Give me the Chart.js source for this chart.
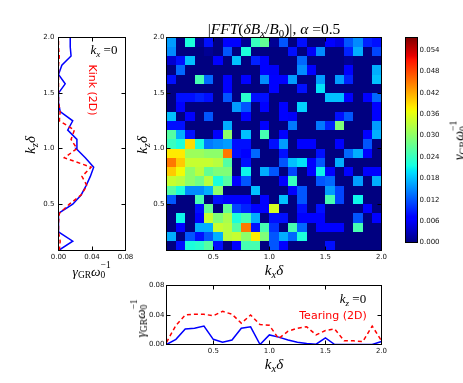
<!DOCTYPE html>
<html>
<head>
<meta charset="utf-8">
<script src="https://cdn.jsdelivr.net/npm/chart.js@4.4.0/dist/chart.umd.min.js"></script>
<style>
  body { margin: 0; background: #fff; width: 463px; height: 383px; overflow: hidden; position: relative; }
  .layer { position: absolute; left: 0; top: 0; width: 463px; height: 383px; }
  .t { position: absolute; white-space: nowrap; line-height: 1; transform: translate(-50%, -50%); }
  .rot { transform: translate(-50%, -50%) rotate(-90deg); }
  .rot90 { transform: translate(-50%, -50%) rotate(90deg); }
  .m { font-family: "Liberation Serif", "DejaVu Serif", serif; color: #000; }
  .s { font-family: "DejaVu Sans", sans-serif; }
  sub { font-size: .7em; position: relative; top: .3em; vertical-align: baseline; line-height: 1; }
  .ss { display: inline-block; position: relative; width: .8em; height: 1em; vertical-align: baseline; }
  .ss span { position: absolute; left: 0; font-size: .7em; line-height: 1; }
  .ss .u { top: -.1em; }
  .ss .d { top: .95em; }
</style>
</head>
<body>
<div class="layer"><canvas id="heat" width="463" height="383"></canvas></div>
<div class="layer"><canvas id="cbar" width="463" height="383"></canvas></div>
<div class="layer"><canvas id="left" width="463" height="383"></canvas></div>
<div class="layer"><canvas id="bottom" width="463" height="383"></canvas></div>

<div class="t m" style="left:274px;top:29px;font-size:15.5px">|<i>FFT</i>(<i>δB</i><sub><i>x</i></sub>/<i>B</i><sub>0</sub>)|, <i>α</i> =0.5</div>
<div class="t m" style="left:274px;top:270px;font-size:15px"><i>k</i><sub><i>x</i></sub><i>δ</i></div>
<div class="t m rot" style="left:142px;top:145px;font-size:15px"><i>k</i><sub><i>z</i></sub><i>δ</i></div>
<div class="t m rot" style="left:30px;top:145px;font-size:15px"><i>k</i><sub><i>z</i></sub><i>δ</i></div>
<div class="t m" style="left:92px;top:270px;font-size:13.5px"><i>γ</i><sub>GR</sub><i>ω</i><span class="ss"><span class="u">−1</span><span class="d">0</span></span></div>
<div class="t m" style="left:104px;top:50px;font-size:13px"><i>k</i><sub><i>x</i></sub> =0</div>
<div class="t s rot90" style="left:92px;top:90px;font-size:11px;color:#f00">Kink (2D)</div>
<div class="t m rot" style="left:139px;top:318px;font-size:13.5px"><i>γ</i><sub>GR</sub><i>ω</i><span class="ss"><span class="u">−1</span><span class="d">0</span></span></div>
<div class="t m" style="left:274px;top:364px;font-size:15px"><i>k</i><sub><i>x</i></sub><i>δ</i></div>
<div class="t m" style="left:353px;top:299px;font-size:13px"><i>k</i><sub><i>z</i></sub> =0</div>
<div class="t s" style="left:333px;top:315px;font-size:11px;color:#f00">Tearing (2D)</div>
<div class="t m rot" style="left:458px;top:140px;font-size:14px"><i>γ</i><sub>GR</sub><i>ω</i><span class="ss"><span class="u">−1</span><span class="d">0</span></span></div>

<script>
// wavenumber grid (k delta), also the pcolor cell edges
const kEdges = [0.083, 0.167, 0.25, 0.333, 0.417, 0.5, 0.583, 0.667, 0.75, 0.833, 0.917, 1.0,
                1.083, 1.167, 1.25, 1.333, 1.417, 1.5, 1.583, 1.667, 1.75, 1.833, 1.917, 2.0];
const kTicks = [0.5, 1.0, 1.5, 2.0];
const gammaTicks = [0, 0.04, 0.08];
const cbTicks = [0, 0.006, 0.012, 0.018, 0.024, 0.030, 0.036, 0.042, 0.048, 0.054];
const cbMax = 0.0575;

// left panel: growth rate vs kz at kx = 0
const gammaKx0 = [0.000, 0.017, 0.000, 0.000, 0.000, 0.017, 0.027, 0.033, 0.038, 0.042, 0.032, 0.021,
                  0.022, 0.011, 0.017, 0.002, 0.000, 0.000, 0.008, 0.000, 0.004, 0.015, 0.014, 0.014];
const kink2D   = [0.001, 0.002, 0.000, 0.000, 0.001, 0.013, 0.027, 0.034, 0.028, 0.039, 0.007, 0.022,
                  0.015, 0.019, 0.001, 0.002, 0.000, 0.000, 0.000, 0.000, 0.000, 0.001, 0.000, 0.000];

// bottom panel: growth rate vs kx at kz = 0
const gammaKz0  = [0.000, 0.007, 0.021, 0.022, 0.025, 0.007, 0.003, 0.006, 0.022, 0.024, 0.000, 0.013,
                   0.010, 0.006, 0.003, 0.0015, 0.0005, 0.009, 0.000, 0.000, 0.000, 0.000, 0.000, 0.004];
const tearing2D = [0.003, 0.026, 0.040, 0.041, 0.041, 0.039, 0.045, 0.041, 0.029, 0.040, 0.027, 0.026,
                   0.008, 0.018, 0.022, 0.024, 0.013, 0.019, 0.021, 0.005, 0.005, 0.004, 0.025, 0.005];

// |FFT| map, units of 1e-3, rows from kz = 2.0 (top) down to kz = 0.083, columns kx = 0.083 .. 2.0
const heatRows = [
  [16,0,22,1,8,0,7,7,1,24,27,1, 12,0,8,0,0,7,5,12,15,9,8],
  [15,0,0,0,1,0,12,0,22,0,0,0, 0,8,0,6,15,0,0,9,17,0,11],
  [4,8,18,0,0,7,0,18,0,9,7,0, 0,0,13,0,0,0,0,1,0,0,0],
  [0,13,0,0,0,0,0,0,0,0,7,6, 0,0,15,7,0,0,0,7,0,0,17],
  [8,0,0,25,13,0,7,0,7,0,15,7, 7,16,0,0,16,0,16,9,0,0,18],
  [0,0,0,0,0,0,7,0,0,0,0,7, 0,0,8,0,20,0,0,0,0,0,0],
  [0,8,8,9,8,0,12,0,23,8,8,0, 0,0,0,0,0,18,18,7,0,7,13],
  [0,7,0,0,0,0,0,16,12,0,7,0, 7,0,19,0,0,0,0,0,0,0,7],
  [18,0,7,0,12,0,0,0,7,0,0,0, 7,6,0,0,0,0,8,12,0,0,7],
  [8,8,0,0,0,0,17,0,0,0,7,0, 0,14,0,0,14,9,29,0,0,0,16],
  [26,17,8,0,0,7,30,0,18,0,25,0, 7,0,0,0,0,0,0,0,0,7,17],
  [24,22,39,22,14,15,16,8,8,0,0,8, 16,0,7,7,0,0,7,0,0,12,0],
  [38,38,31,31,30,30,45,8,7,13,0,0, 8,0,0,0,8,0,0,13,17,7,0],
  [45,40,34,34,34,33,26,0,8,0,0,0, 12,18,20,7,12,0,17,0,0,0,0],
  [40,37,30,33,27,29,29,0,21,0,17,12, 0,11,0,7,21,7,0,7,0,7,7],
  [34,33,30,28,33,22,26,7,12,0,0,0, 7,24,0,0,12,13,0,0,16,0,17],
  [26,22,15,15,17,30,0,0,0,18,0,0, 0,7,12,0,0,16,11,0,0,0,0],
  [12,0,0,25,0,8,7,7,7,0,7,0, 18,0,12,0,0,25,11,0,21,0,0],
  [0,0,0,8,27,0,27,11,9,7,7,35, 0,0,8,0,8,0,0,0,0,7,0],
  [0,21,0,7,34,29,32,22,25,17,0,8, 8,0,7,7,7,0,0,0,12,0,7],
  [0,7,0,17,17,34,33,26,45,8,25,10, 0,25,13,0,7,7,7,0,25,0,0],
  [17,0,12,8,12,17,33,34,30,38,29,12, 17,13,22,0,0,0,0,0,0,0,0],
  [0,8,22,23,26,8,0,7,25,25,0,12, 7,0,0,0,0,8,0,0,0,0,0]
];

const W = 463, H = 383;

// matplotlib jet
const jetR = [[0, 0], [0.35, 0], [0.66, 1], [0.89, 1], [1, 0.5]];
const jetG = [[0, 0], [0.125, 0], [0.375, 1], [0.64, 1], [0.91, 0], [1, 0]];
const jetB = [[0, 0.5], [0.11, 1], [0.34, 1], [0.65, 0], [1, 0]];
function seg(pts, t) {
  for (let i = 1; i < pts.length; i++) {
    if (t <= pts[i][0]) {
      const [t0, v0] = pts[i - 1], [t1, v1] = pts[i];
      return v0 + (v1 - v0) * (t - t0) / (t1 - t0);
    }
  }
  return pts[pts.length - 1][1];
}
function jet(t) {
  t = Math.max(0, Math.min(1, t));
  const c = [jetR, jetG, jetB].map(p => Math.round(255 * seg(p, t)));
  return `rgb(${c[0]},${c[1]},${c[2]})`;
}

function base(box, yW, xH, yRight) {
  return {
    responsive: false, animation: false, events: [],
    layout: {
      padding: yRight
        ? {left: box.l, top: box.t, right: W - box.r - yW, bottom: H - box.b}
        : {left: box.l - yW, top: box.t, right: W - box.r, bottom: H - box.b - xH}
    },
    plugins: {legend: {display: false}, tooltip: {enabled: false}}
  };
}

function axis(min, max, ticks, digits, pos, size, pad) {
  const vert = pos === 'left' || pos === 'right';
  return {
    type: 'linear', position: pos, min: min, max: max,
    afterBuildTicks: s => { s.ticks = ticks.map(v => ({value: v})); },
    afterFit: s => {
      if (vert) { s.width = size; s.paddingTop = 0; s.paddingBottom = 0; }
      else { s.height = size; s.paddingLeft = 0; s.paddingRight = 0; }
    },
    grid: {display: false, drawTicks: false},
    border: {display: false},
    ticks: {
      padding: pad, color: '#111', autoSkip: false, maxRotation: 0,
      font: {family: 'DejaVu Sans', size: 7},
      callback: v => v.toFixed(digits)
    }
  };
}

// black frame + inward ticks on all four sides, like classic matplotlib
const frameTicks = {
  id: 'frameTicks',
  afterDraw(chart) {
    const {ctx, chartArea: a, scales} = chart;
    const L = 4;
    ctx.save();
    ctx.strokeStyle = '#000';
    ctx.lineWidth = 1;
    ctx.beginPath();
    if (scales.x.options.display !== false) {
      scales.x.ticks.forEach(t => {
        const px = Math.floor(scales.x.getPixelForValue(t.value)) + 0.5;
        ctx.moveTo(px, a.bottom); ctx.lineTo(px, a.bottom - L);
        ctx.moveTo(px, a.top); ctx.lineTo(px, a.top + L);
      });
      scales.y.ticks.forEach(t => {
        const py = Math.floor(scales.y.getPixelForValue(t.value)) + 0.5;
        ctx.moveTo(a.left, py); ctx.lineTo(a.left + L, py);
        ctx.moveTo(a.right, py); ctx.lineTo(a.right - L, py);
      });
    }
    ctx.stroke();
    ctx.strokeRect(a.left, a.top, a.right - a.left, a.bottom - a.top);
    ctx.restore();
  }
};

const heatCells = {
  id: 'heatCells',
  beforeDatasetsDraw(chart) {
    const {ctx, scales: {x, y}} = chart;
    const n = kEdges.length;
    heatRows.forEach((row, r) => {
      const y0 = Math.round(y.getPixelForValue(kEdges[n - 1 - r]));
      const y1 = Math.round(y.getPixelForValue(kEdges[n - 2 - r]));
      row.forEach((v, c) => {
        const x0 = Math.round(x.getPixelForValue(kEdges[c]));
        const x1 = Math.round(x.getPixelForValue(kEdges[c + 1]));
        ctx.fillStyle = jet(v * 1e-3 / cbMax);
        ctx.fillRect(x0, y0, x1 - x0, y1 - y0);
      });
    });
  }
};

const cbFill = {
  id: 'cbFill',
  beforeDatasetsDraw(chart) {
    const {ctx, chartArea: a, scales: {y}} = chart;
    for (let py = Math.floor(a.top); py < a.bottom; py++) {
      ctx.fillStyle = jet(y.getValueForPixel(py + 0.5) / cbMax);
      ctx.fillRect(a.left, py, a.right - a.left, 1);
    }
  }
};

const heatBox = {l: 166.5, t: 37.5, r: 381.5, b: 250.5};
const leftBox = {l: 58.5, t: 37.5, r: 125.5, b: 250.5};
const botBox = {l: 166.5, t: 285.5, r: 381.5, b: 344.5};
const cbBox = {l: 405.5, t: 37.5, r: 417.5, b: 242.5};

new Chart(document.getElementById('heat'), {
  type: 'scatter',
  data: {datasets: [{data: [], pointRadius: 0}]},
  options: Object.assign(base(heatBox, 30, 14), {
    scales: {
      x: axis(kEdges[0], kEdges[kEdges.length - 1], kTicks, 1, 'bottom', 14, 2),
      y: axis(kEdges[0], kEdges[kEdges.length - 1], kTicks, 1, 'left', 30, 2)
    }
  }),
  plugins: [heatCells, frameTicks]
});

new Chart(document.getElementById('cbar'), {
  type: 'scatter',
  data: {datasets: [{data: [], pointRadius: 0}]},
  options: Object.assign(base(cbBox, 30, 0, true), {
    scales: {
      x: {type: 'linear', display: false, min: 0, max: 1},
      y: axis(0, cbMax, cbTicks, 3, 'right', 30, 2)
    }
  }),
  plugins: [cbFill, frameTicks]
});

function lineSet(xs, ys, color, dashed) {
  return {
    data: xs.map((v, i) => ({x: v, y: ys[i]})),
    showLine: true, pointRadius: 0, borderColor: color, borderWidth: 1.5,
    borderDash: dashed ? [4, 3] : [], tension: 0
  };
}

new Chart(document.getElementById('left'), {
  type: 'scatter',
  data: {datasets: [
    lineSet(kink2D, kEdges, '#ff0000', true),
    lineSet(gammaKx0, kEdges, '#0000ff', false)
  ]},
  options: Object.assign(base(leftBox, 30, 14), {
    scales: {
      x: axis(0, 0.08, gammaTicks, 2, 'bottom', 14, 2),
      y: axis(kEdges[0], kEdges[kEdges.length - 1], kTicks, 1, 'left', 30, 4)
    }
  }),
  plugins: [frameTicks]
});

new Chart(document.getElementById('bottom'), {
  type: 'scatter',
  data: {datasets: [
    lineSet(kEdges, tearing2D, '#ff0000', true),
    lineSet(kEdges, gammaKz0, '#0000ff', false)
  ]},
  options: Object.assign(base(botBox, 30, 14), {
    scales: {
      x: axis(kEdges[0], kEdges[kEdges.length - 1], kTicks, 1, 'bottom', 14, 2),
      y: axis(0, 0.08, gammaTicks, 2, 'left', 30, 2)
    }
  }),
  plugins: [frameTicks]
});
</script>
</body>
</html>
